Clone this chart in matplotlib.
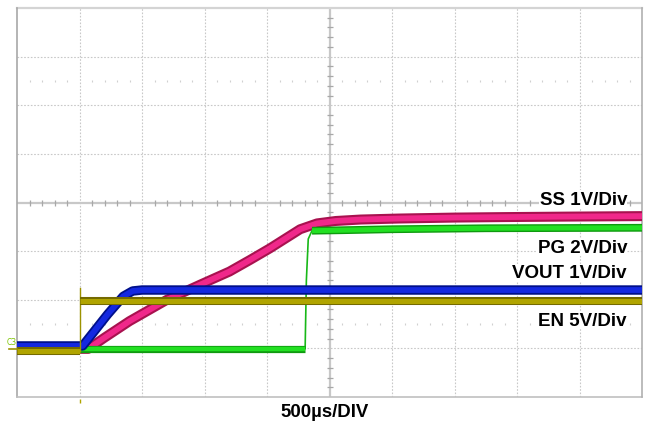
import numpy as np
import matplotlib
matplotlib.use("Agg")
import matplotlib.pyplot as plt

# scope screen in divisions: x -5..5 (500us/div), y -4..4
en_t = [-5.0, -4.0, -4.0, 5.0]
en_v = [-3.05, -3.05, -2.03, -2.03]

vout_t = [-5.0, -3.95, -3.55, -3.3, -3.15, -3.0, 5.0]
vout_v = [-2.95, -2.95, -2.3, -1.93, -1.82, -1.80, -1.80]

ss_t = [-5.0, -3.86, -3.6, -3.2, -2.6, -2.07, -1.6, -1.27, -0.95, -0.47,
        -0.2, 0.1, 0.5, 1.1, 2.0, 2.8, 3.8, 5.0]
ss_v = [-3.01, -3.01, -2.78, -2.44, -2.0, -1.69, -1.42, -1.18, -0.94, -0.55,
        -0.43, -0.38, -0.35, -0.33, -0.31, -0.30, -0.29, -0.28]

pg_t = [-5.0, -0.39, -0.37, -0.34, -0.28, 0.2, 1.0, 2.5, 5.0]
pg_v = [-3.01, -3.01, -1.6, -0.75, -0.58, -0.57, -0.55, -0.53, -0.52]

labels = ["SS 1V/Div", "PG 2V/Div", "VOUT 1V/Div", "EN 5V/Div"]
label_y = [0.07, -0.92, -1.44, -2.42]
xlabel = "500\u00b5s/DIV"

W, H = 650, 431
fig = plt.figure(figsize=(W / 100, H / 100), dpi=100)
ax = fig.add_axes([17 / W, (H - 398) / H, 625 / W, 389 / H])
ax.set_xlim(-5, 5)
ax.set_ylim(-4, 4)
ax.axis("off")

# graticule
gc = "#c8c8c8"
for gx in range(-4, 5):
    if gx != 0:
        ax.axvline(gx, color=gc, lw=0.8, ls=(0, (1.5, 1.5)), zorder=1)
for gy in range(-3, 4):
    if gy != 0:
        ax.axhline(gy, color=gc, lw=0.8, ls=(0, (1.5, 1.5)), zorder=1)
ax.axhline(0, color=gc, lw=1.6, zorder=1)
ax.axvline(0, color=gc, lw=1.6, zorder=1)
minor_x = [v / 5 for v in range(-25, 26) if v % 5 != 0]
minor_y = [v / 5 for v in range(-20, 21) if v % 5 != 0]
ax.plot(minor_x, [0] * len(minor_x), ls="none", marker="|", ms=4, mew=0.9, color="#a8a8a8", zorder=1)
ax.plot([0] * len(minor_y), minor_y, ls="none", marker="_", ms=4, mew=0.9, color="#a8a8a8", zorder=1)
for ry in (2.5, -2.5):
    ax.plot(minor_x, [ry] * len(minor_x), ls="none", marker="|", ms=2, mew=0.8, color="#d0d0d0", zorder=1)

# frame
ax.plot([-5, 5], [4, 4], color="#d4d4d4", lw=1.6, zorder=2, clip_on=False)
ax.plot([-5, -5], [-4, 4], color="#a8a8a8", lw=1.2, zorder=2, clip_on=False)
ax.plot([-5, 5], [-4, -4], color="#c0c0c0", lw=1.2, zorder=2, clip_on=False)
ax.plot([5, 5], [-4, 4], color="#b0b0b0", lw=1.2, zorder=2, clip_on=False)

kw = dict(solid_capstyle="butt", solid_joinstyle="round")

# SS (pink)
ax.plot(ss_t, ss_v, color="#a8124f", lw=7.2, zorder=3, **kw)
ax.plot(ss_t, ss_v, color="#f0288a", lw=4.2, zorder=3.1, **kw)

# PG (green): thin edge, thick flat parts
ax.plot(pg_t, pg_v, color="#18b818", lw=1.2, zorder=3.2)
ax.plot(pg_t[:2], pg_v[:2], color="#0f9a0f", lw=5.2, zorder=3.2, **kw)
ax.plot(pg_t[:2], pg_v[:2], color="#22e022", lw=3.2, zorder=3.3, **kw)
ax.plot(pg_t[4:], pg_v[4:], color="#0f9a0f", lw=5.6, zorder=3.2, **kw)
ax.plot(pg_t[4:], pg_v[4:], color="#22e022", lw=3.6, zorder=3.3, **kw)

# VOUT (blue)
ax.plot(vout_t, vout_v, color="#00108a", lw=6.8, zorder=3.4, **kw)
ax.plot(vout_t, vout_v, color="#1428e0", lw=4.2, zorder=3.5, **kw)

# EN (olive): thin step edge, thick flat levels
ax.plot([en_t[1], en_t[2]], [en_v[1], -1.76], color="#9c9200", lw=1.0, zorder=3.6)
for seg in (slice(0, 2), slice(2, 4)):
    ax.plot(en_t[seg], en_v[seg], color="#746a00", lw=5.8, zorder=3.6, **kw)
    ax.plot(en_t[seg], en_v[seg], color="#b0a400", lw=3.6, zorder=3.7, **kw)

# channel labels
for txt, yy in zip(labels, label_y):
    ax.text(4.76, yy, txt, ha="right", va="center", fontsize=13.5, fontweight="bold",
            family="Liberation Sans", color="black", zorder=10,
            bbox=dict(facecolor="white", edgecolor="none", pad=0.3))

# markers
fig.text(7 / W, 1 - 343 / H, "C3", fontsize=5.5, color="#7cc400", va="center", ha="left")
fig.add_artist(plt.Line2D([9 / W, 17 / W], [1 - 350 / H] * 2, color="#9c9200", lw=1.2))
ax.plot([5.22], [-2.42], marker="<", ms=5, color="#b0a400", clip_on=False, zorder=5)
ax.plot([-4.0], [-4.09], marker="|", ms=3, color="#b0a400", clip_on=False, zorder=5)

fig.text(325 / W, 1 - 413 / H, xlabel, ha="center", va="center", fontsize=13.4,
         fontweight="bold", family="Liberation Sans", color="black")

fig.savefig("out.png", dpi=100)
